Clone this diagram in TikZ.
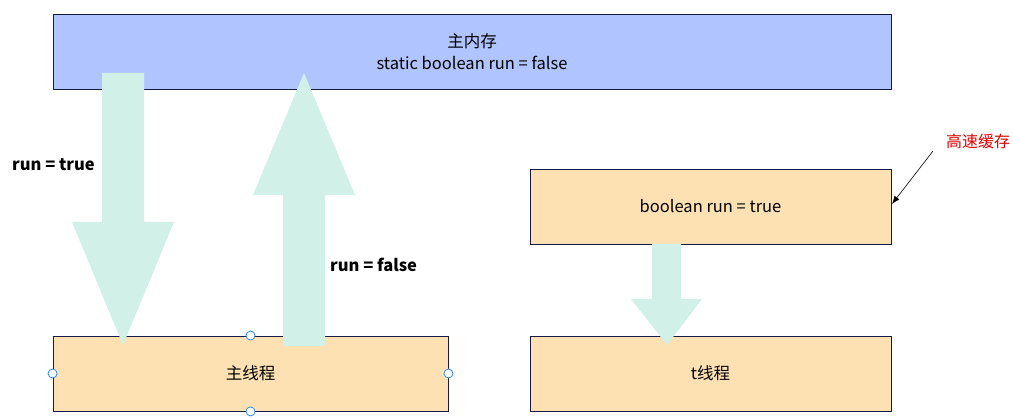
\documentclass[tikz,border=0pt]{standalone}
\usepackage{fontspec}
\setmainfont{Noto Sans CJK SC}
\usetikzlibrary{arrows.meta}
\definecolor{memblue}{RGB}{176,196,255}
\definecolor{threadtan}{RGB}{254,225,179}
\definecolor{flowmint}{RGB}{208,240,232}
\definecolor{boxline}{RGB}{22,26,72}
\definecolor{handleblue}{RGB}{40,140,255}
\definecolor{notered}{RGB}{225,0,0}

\begin{document}
\begin{tikzpicture}[x=1pt,y=-1pt,
		box/.style={draw=boxline,line width=0.9pt,inner sep=0pt,minimum height=75pt,align=center,font=\fontsize{16.5}{22}\selectfont},
		flow/.style={fill=flowmint,draw=none},
		lbl/.style={anchor=west,inner sep=0pt,font=\fontsize{16.5}{18}\selectfont\bfseries},
		handle/.style={draw=handleblue,fill=white,line width=0.8pt}]
		\useasboundingbox (0,0) rectangle (1013,419);

		% memory and caches
		\node[box,fill=memblue,minimum width=838pt] (mem) at (472,51.5) {主内存\\static boolean run = false};
		\node[box,fill=threadtan,minimum width=361pt] (cache) at (710.5,206.5) {boolean run = true};
		\node[box,fill=threadtan,minimum width=395pt] (main) at (250.5,373.5) {主线程};
		\node[box,fill=threadtan,minimum width=361pt] (tthread) at (710.5,373.5) {t线程};

		% write down
		\fill[flow] (102,73) -- (144,73) -- (144,222) -- (174,222) -- (123,345) -- (72,222) -- (102,222) -- cycle;
		% read up
		\fill[flow] (283,346) -- (325,346) -- (325,195) -- (355,195) -- (304,73) -- (253,195) -- (283,195) -- cycle;
		% cache to thread
		\fill[flow] (652,244) -- (681,244) -- (681,299) -- (702,299) -- (667,345) -- (631,299) -- (652,299) -- cycle;

		% labels
		\node[lbl] (lbltrue) at (12,165) {run = true};
		\node[lbl] (lblfalse) at (330,265) {run = false};

		% note
		\node[text=notered,inner sep=0pt,font=\fontsize{16}{18}\selectfont] (note) at (978,141) {高速缓存};
		\coordinate (notetail) at (933,151);
		\coordinate (notehead) at (892,204);
		\draw[line width=0.6pt,-{Latex[length=8pt,width=6pt]}] (notetail) -- (notehead);

		% handles
		\foreach \side in {north,south,east,west}
			\draw[handle] (main.\side) circle[radius=4.5pt];
	\end{tikzpicture}
\end{document}
